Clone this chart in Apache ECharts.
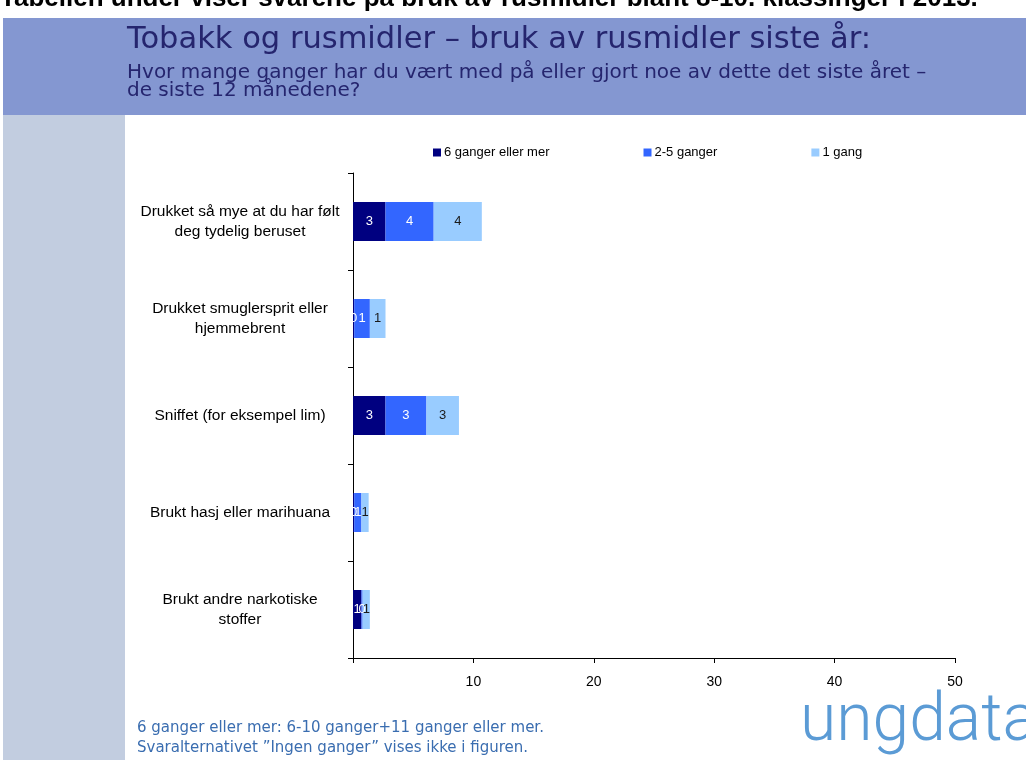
<!DOCTYPE html>
<html>
<head>
<meta charset="utf-8">
<script src="https://cdn.jsdelivr.net/npm/echarts@6/dist/echarts.min.js"></script>
<style>
  html, body { margin: 0; padding: 0; background: #fff; }
  #main { width: 1026px; height: 760px; }
</style>
</head>
<body>
<div id="main"></div>
<script>
var categories = [
    'Drukket så mye at du har følt\ndeg tydelig beruset',
    'Drukket smuglersprit eller\nhjemmebrent',
    'Sniffet (for eksempel lim)',
    'Brukt hasj eller marihuana',
    'Brukt andre narkotiske\nstoffer'
];
var seriesNames = ['6 ganger eller mer', '2-5 ganger', '1 gang'];
var sixOrMore = [2.7, 0.1, 2.7, 0.1, 0.7];
var twoToFive = [4.0, 1.3, 3.4, 0.6, 0.1];
var once = [4.0, 1.3, 2.7, 0.6, 0.6];
var xTicks = [0, 10, 20, 30, 40, 50];

var colors = ['#000080', '#3366ff', '#99ccff'];
var labelColors = ['#ffffff', '#ffffff', '#1a1a1a'];
var values = [sixOrMore, twoToFive, once];

var chart = echarts.init(document.getElementById('main'));

function makeSeries(i) {
    return {
        name: seriesNames[i],
        type: 'bar',
        stack: 'total',
        barWidth: 39,
        data: values[i],
        itemStyle: { color: colors[i] },
        label: {
            show: true,
            position: 'inside',
            color: labelColors[i],
            fontFamily: 'Liberation Sans',
            fontSize: 13,
            formatter: function (p) { return Math.round(p.value); }
        }
    };
}

var option = {
    backgroundColor: '#ffffff',
    animation: false,
    color: colors,
    graphic: [
        { type: 'rect', left: 3, top: 18, shape: { width: 1023, height: 97 }, style: { fill: '#8497d1' } },
        { type: 'rect', left: 3, top: 115, shape: { width: 122, height: 645 }, style: { fill: '#c2cde0' } },
        { type: 'text', left: 0, top: -14, style: { text: 'Tabellen under viser svarene på bruk av rusmidler blant 8-10. klassinger i 2013.', font: 'bold 26px "Liberation Sans"', fill: '#000' } },
        { type: 'text', left: 127, top: 25, style: { text: 'Tobakk og rusmidler – bruk av rusmidler siste år:', font: '30.5px "DejaVu Sans"', fill: '#25256e' } },
        { type: 'text', left: 127, top: 63, style: { text: 'Hvor mange ganger har du vært med på eller gjort noe av dette det siste året –\nde siste 12 månedene?', font: '20px "DejaVu Sans"', lineHeight: 18, fill: '#25256e' } },
        { type: 'text', left: 137, top: 718, style: { text: '6 ganger eller mer: 6-10 ganger+11 ganger eller mer.\nSvaralternativet ”Ingen ganger” vises ikke i figuren.', font: '15px "DejaVu Sans"', lineHeight: 20, fill: '#3a6db0' } },
        { type: 'text', left: 800, top: 690, style: { text: 'ungdata', font: '300 66px Roboto', fill: '#5b9bd5' } }
    ],
    legend: {
        top: 141,
        left: 428,
        itemGap: 94,
        itemWidth: 8,
        itemHeight: 8,
        icon: 'rect',
        data: seriesNames,
        textStyle: { fontFamily: 'Liberation Sans', fontSize: 13, color: '#000', padding: [0, 0, 0, -2] }
    },
    grid: { left: 353, right: 71, top: 173, bottom: 102 },
    xAxis: {
        type: 'value',
        min: 0,
        max: 50,
        interval: 10,
        axisLine: { show: true, lineStyle: { color: '#000', width: 1 } },
        axisTick: { show: true, length: 5, lineStyle: { color: '#000' } },
        splitLine: { show: false },
        axisLabel: {
            margin: 17,
            fontFamily: 'Liberation Sans',
            fontSize: 14,
            color: '#000',
            formatter: function (v) { return v === xTicks[0] ? '' : v; }
        }
    },
    yAxis: {
        type: 'category',
        inverse: true,
        data: categories,
        axisLine: { show: true, lineStyle: { color: '#000', width: 1 } },
        axisTick: { show: true, length: 5, lineStyle: { color: '#000' } },
        axisLabel: {
            align: 'center',
            margin: 113,
            fontFamily: 'Liberation Sans',
            fontSize: 15.5,
            lineHeight: 20,
            color: '#000'
        }
    },
    series: [makeSeries(0), makeSeries(1), makeSeries(2)]
};

chart.setOption(option);
</script>
</body>
</html>
